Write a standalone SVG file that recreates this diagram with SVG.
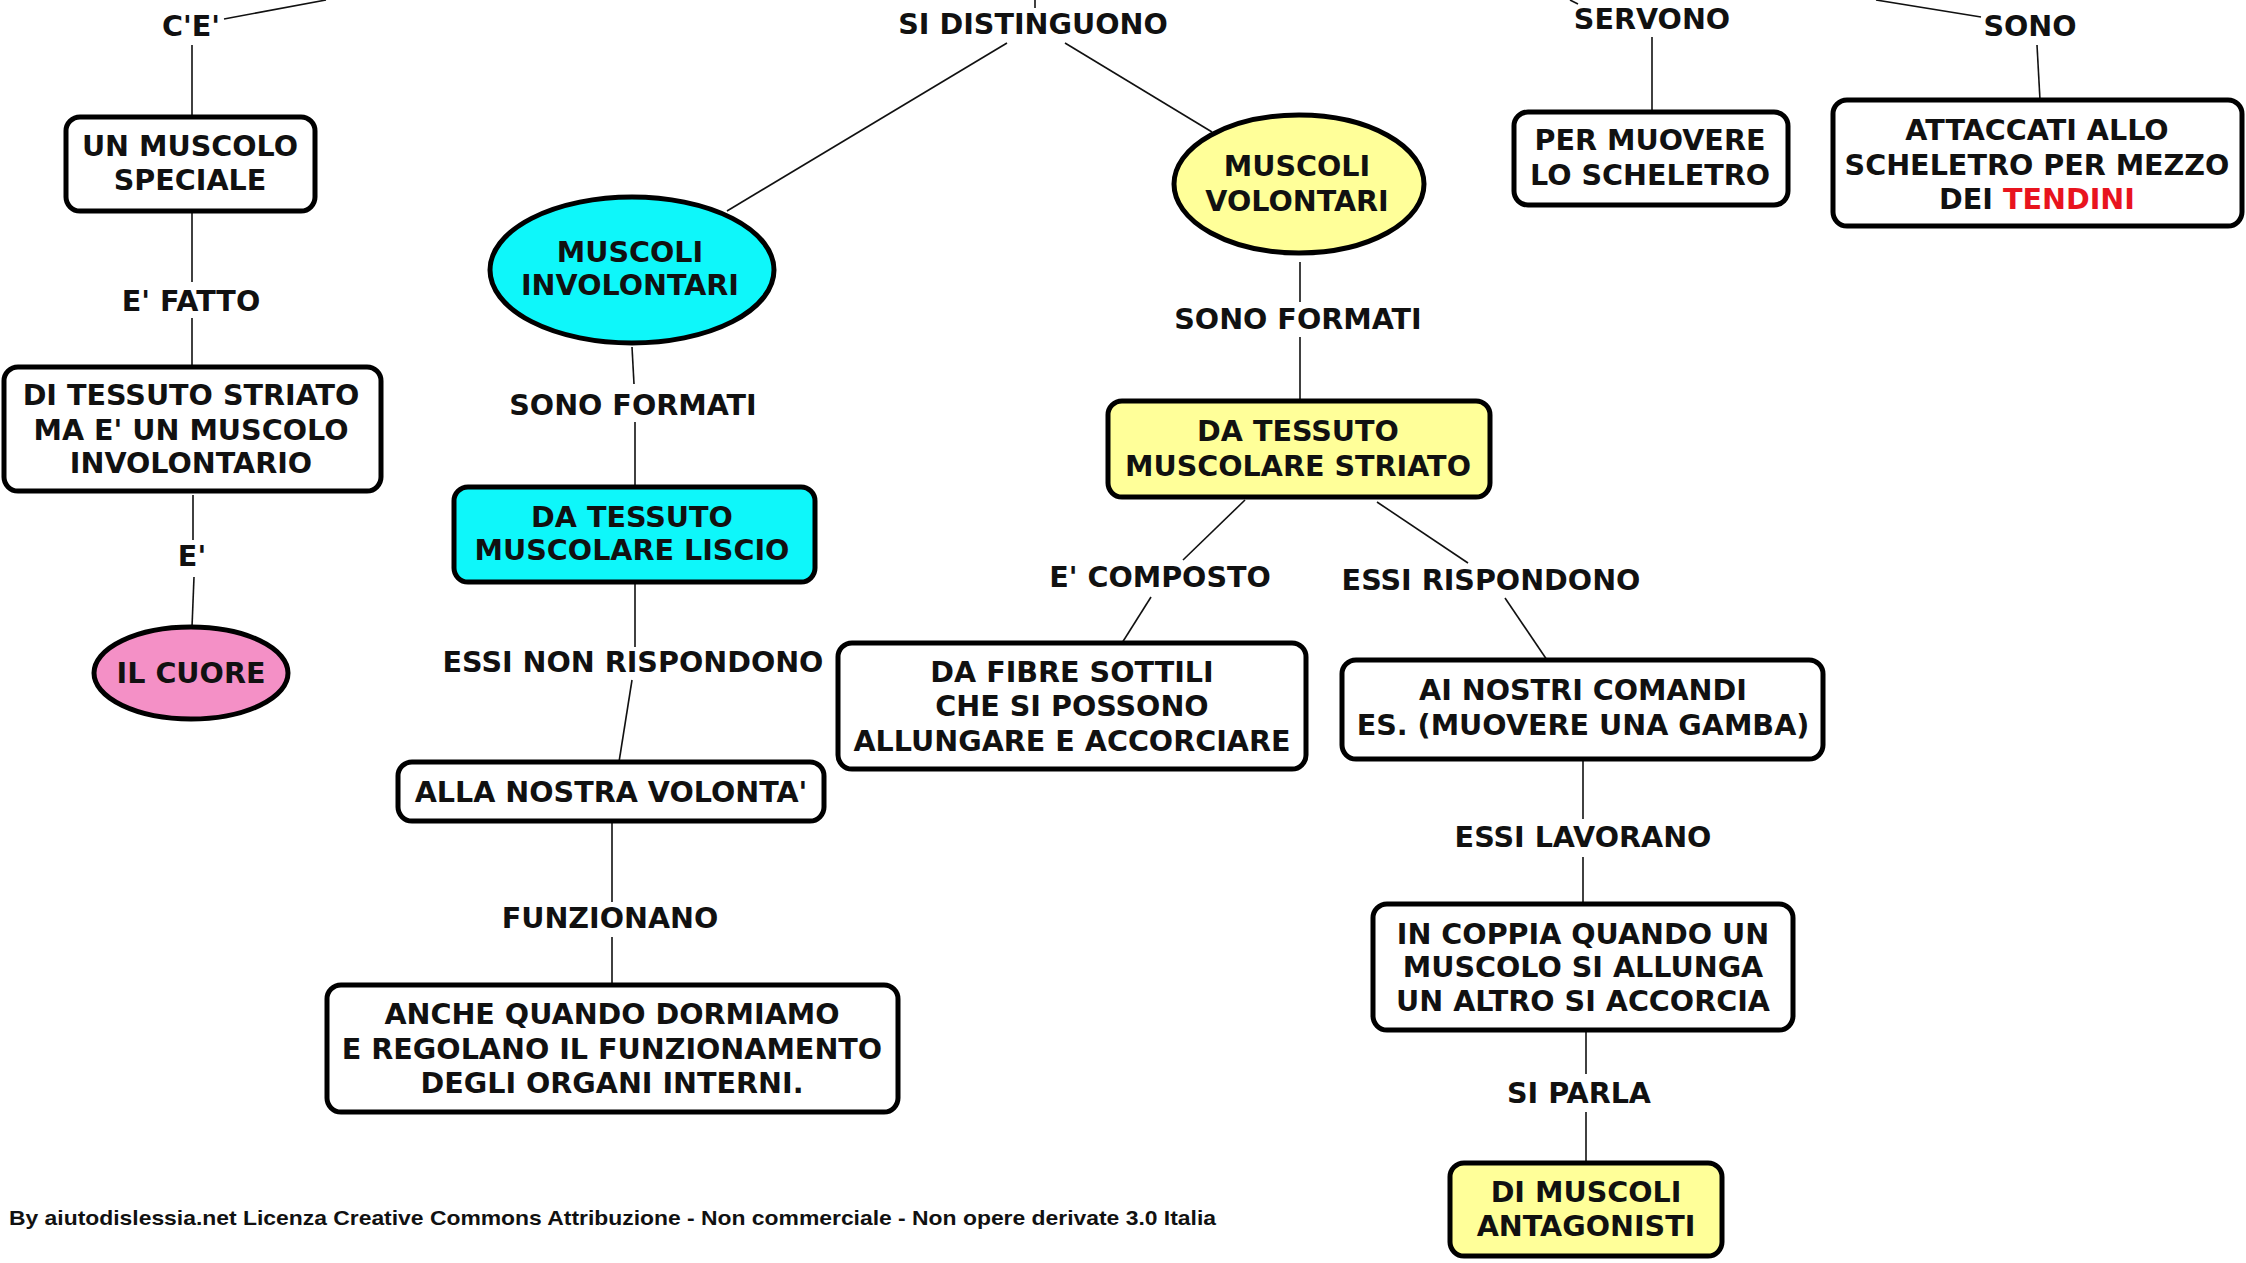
<svg xmlns="http://www.w3.org/2000/svg" width="2246" height="1263" viewBox="0 0 2246 1263">
<style>
.n{stroke:#000;stroke-width:5;}
.w{fill:#fff;}
.c{fill:#0ef7fa;}
.y{fill:#ffff99;}
.p{fill:#f490c6;}
text{font-family:"DejaVu Sans","Verdana",sans-serif;font-weight:bold;font-size:28.6px;fill:#111;text-anchor:middle;}
.l{stroke:#111;stroke-width:1.6;fill:none;}
.ft{font-family:"Liberation Sans",Arial,sans-serif;font-size:21px;text-anchor:start;}
</style>
<rect width="2246" height="1263" fill="#fff"/>
<g id="connectors">
<line class="l" x1="224" y1="19" x2="326" y2="0"/>
<line class="l" x1="192" y1="45" x2="192" y2="117"/>
<line class="l" x1="192" y1="213" x2="192" y2="282"/>
<line class="l" x1="192" y1="318" x2="192" y2="365"/>
<line class="l" x1="193" y1="495" x2="193" y2="540"/>
<line class="l" x1="194" y1="577" x2="192" y2="627"/>
<line class="l" x1="1035" y1="0" x2="1035" y2="8"/>
<line class="l" x1="1007" y1="43" x2="727" y2="211"/>
<line class="l" x1="1065" y1="43" x2="1212" y2="132"/>
<line class="l" x1="1300" y1="262" x2="1300" y2="302"/>
<line class="l" x1="1300" y1="337" x2="1300" y2="401"/>
<line class="l" x1="1245" y1="500" x2="1183" y2="560"/>
<line class="l" x1="1151" y1="597" x2="1122" y2="643"/>
<line class="l" x1="1377" y1="502" x2="1468" y2="563"/>
<line class="l" x1="1505" y1="598" x2="1547" y2="660"/>
<line class="l" x1="1583" y1="761" x2="1583" y2="819"/>
<line class="l" x1="1583" y1="857" x2="1583" y2="904"/>
<line class="l" x1="1586" y1="1032" x2="1586" y2="1074"/>
<line class="l" x1="1586" y1="1112" x2="1586" y2="1163"/>
<line class="l" x1="632" y1="347" x2="634" y2="384"/>
<line class="l" x1="635" y1="422" x2="635" y2="487"/>
<line class="l" x1="635" y1="584" x2="635" y2="647"/>
<line class="l" x1="632" y1="680" x2="619" y2="762"/>
<line class="l" x1="612" y1="823" x2="612" y2="902"/>
<line class="l" x1="612" y1="937" x2="612" y2="985"/>
<line class="l" x1="1652" y1="37" x2="1652" y2="112"/>
<line class="l" x1="1578" y1="4" x2="1570" y2="0"/>
<line class="l" x1="1981" y1="17" x2="1876" y2="0"/>
<line class="l" x1="2037" y1="45" x2="2040" y2="100"/>
</g>
<g id="labels">
<text x="191" y="36">C'E'</text>
<text x="1033" y="34">SI DISTINGUONO</text>
<text x="1652" y="29">SERVONO</text>
<text x="2030" y="36">SONO</text>
<text x="191" y="311">E' FATTO</text>
<text x="192" y="566">E'</text>
<text x="633" y="415">SONO FORMATI</text>
<text x="633" y="672">ESSI NON RISPONDONO</text>
<text x="610" y="928">FUNZIONANO</text>
<text x="1298" y="329">SONO FORMATI</text>
<text x="1160" y="587">E' COMPOSTO</text>
<text x="1491" y="590">ESSI RISPONDONO</text>
<text x="1583" y="847">ESSI LAVORANO</text>
<text x="1579" y="1103">SI PARLA</text>
</g>
<g id="n-muscolo-speciale">
<rect class="n w" x="66" y="117" width="249" height="94" rx="14"/>
<text x="190" y="156">UN MUSCOLO</text>
<text x="190" y="190">SPECIALE</text>
</g>
<g id="n-tessuto-striato-inv">
<rect class="n w" x="4" y="367" width="377" height="124" rx="14"/>
<text x="191" y="405">DI TESSUTO STRIATO</text>
<text x="191" y="440">MA E' UN MUSCOLO</text>
<text x="191" y="473">INVOLONTARIO</text>
</g>
<g id="n-cuore">
<ellipse class="n p" cx="191" cy="673" rx="97" ry="46"/>
<text x="191" y="683">IL CUORE</text>
</g>
<g id="n-involontari">
<ellipse class="n c" cx="632" cy="270" rx="142" ry="73"/>
<text x="630" y="262">MUSCOLI</text>
<text x="630" y="295">INVOLONTARI</text>
</g>
<g id="n-liscio">
<rect class="n c" x="454" y="487" width="361" height="95" rx="14"/>
<text x="632" y="527">DA TESSUTO</text>
<text x="632" y="560">MUSCOLARE LISCIO</text>
</g>
<g id="n-volonta">
<rect class="n w" x="398" y="762" width="426" height="59" rx="14"/>
<text x="611" y="802">ALLA NOSTRA VOLONTA'</text>
</g>
<g id="n-dormiamo">
<rect class="n w" x="327" y="985" width="571" height="127" rx="14"/>
<text x="612" y="1024">ANCHE QUANDO DORMIAMO</text>
<text x="612" y="1059">E REGOLANO IL FUNZIONAMENTO</text>
<text x="612" y="1093">DEGLI ORGANI INTERNI.</text>
</g>
<g id="n-volontari">
<ellipse class="n y" cx="1299" cy="184" rx="125" ry="69"/>
<text x="1297" y="176">MUSCOLI</text>
<text x="1297" y="211">VOLONTARI</text>
</g>
<g id="n-striato">
<rect class="n y" x="1108" y="401" width="382" height="96" rx="14"/>
<text x="1298" y="441">DA TESSUTO</text>
<text x="1298" y="476">MUSCOLARE STRIATO</text>
</g>
<g id="n-fibre">
<rect class="n w" x="838" y="643" width="468" height="126" rx="14"/>
<text x="1072" y="682">DA FIBRE SOTTILI</text>
<text x="1072" y="716">CHE SI POSSONO</text>
<text x="1072" y="751">ALLUNGARE E ACCORCIARE</text>
</g>
<g id="n-comandi">
<rect class="n w" x="1342" y="660" width="481" height="99" rx="14"/>
<text x="1583" y="700">AI NOSTRI COMANDI</text>
<text x="1583" y="735">ES. (MUOVERE UNA GAMBA)</text>
</g>
<g id="n-coppia">
<rect class="n w" x="1373" y="904" width="420" height="126" rx="14"/>
<text x="1583" y="944">IN COPPIA QUANDO UN</text>
<text x="1583" y="977">MUSCOLO SI ALLUNGA</text>
<text x="1583" y="1011">UN ALTRO SI ACCORCIA</text>
</g>
<g id="n-antagonisti">
<rect class="n y" x="1450" y="1163" width="272" height="93" rx="14"/>
<text x="1586" y="1202">DI MUSCOLI</text>
<text x="1586" y="1236">ANTAGONISTI</text>
</g>
<g id="n-scheletro">
<rect class="n w" x="1514" y="112" width="274" height="93" rx="14"/>
<text x="1650" y="150">PER MUOVERE</text>
<text x="1650" y="185">LO SCHELETRO</text>
</g>
<g id="n-tendini">
<rect class="n w" x="1833" y="100" width="409" height="126" rx="14"/>
<text x="2037" y="140">ATTACCATI ALLO</text>
<text x="2037" y="175">SCHELETRO PER MEZZO</text>
<text x="2037" y="209">DEI <tspan fill="#e8141e">TENDINI</tspan></text>
</g>
<g id="footer">
<text class="ft" x="9" y="1225" textLength="1207" lengthAdjust="spacingAndGlyphs">By aiutodislessia.net Licenza Creative Commons Attribuzione - Non commerciale - Non opere derivate 3.0 Italia</text>
</g>
</svg>
